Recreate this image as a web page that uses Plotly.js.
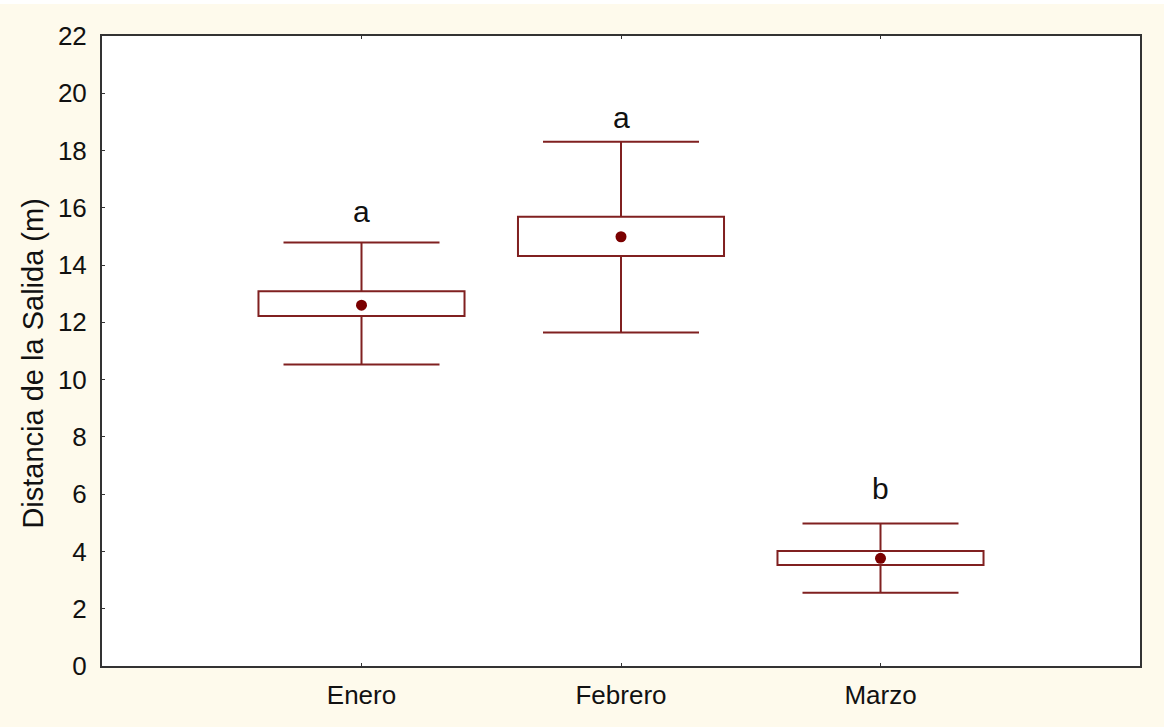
<!DOCTYPE html>
<html>
<head>
<meta charset="utf-8">
<script src="https://cdn.plot.ly/plotly-3.0.1.min.js"></script>
<style>
  html, body { margin: 0; padding: 0; background: #FEFAEC; }
  #chart { width: 1164px; height: 727px; }
</style>
</head>
<body>
<div id="chart"></div>
<script>
// Months compared
const months = ['Enero', 'Febrero', 'Marzo'];

// Distance from the exit (m): mean, mean ± SE (box), mean ± 1.96·SE (whiskers)
const means   = [12.60, 14.99, 3.76];
const boxLow  = [12.22, 14.32, 3.53];
const boxHigh = [13.09, 15.69, 4.02];
const whiskLow  = [10.53, 11.65, 2.56];
const whiskHigh = [14.79, 18.31, 4.98];

// Homogeneous-group letters and the height where each one sits
const groupLetters = ['a', 'a', 'b'];
const letterY = [15.88, 19.14, 6.20];

// Y axis ticks
const yTicks = [0, 2, 4, 6, 8, 10, 12, 14, 16, 18, 20, 22];

const markColor = '#802020';
const dotColor = '#7a0000';
const frameColor = '#333333';
const textColor = '#111111';
const sans = '"Liberation Sans", Arial, sans-serif';

// Whiskers: full vertical span with end caps, centred on each month
const whiskers = {
  type: 'scatter',
  mode: 'markers',
  x: months,
  y: means,
  marker: { size: 1, color: 'rgba(0,0,0,0)' },
  error_y: {
    type: 'data',
    symmetric: false,
    array: whiskHigh.map((v, i) => v - means[i]),
    arrayminus: means.map((v, i) => v - whiskLow[i]),
    color: markColor,
    thickness: 2,
    width: 78
  },
  hoverinfo: 'skip',
  showlegend: false
};

// Boxes (white fill) on an overlaid axis pair so they sit above the whisker line
const boxes = {
  type: 'bar',
  x: months,
  base: boxLow,
  y: boxHigh.map((v, i) => v - boxLow[i]),
  xaxis: 'x2',
  yaxis: 'y2',
  width: 0.794,
  marker: { color: '#ffffff', line: { color: markColor, width: 2 } },
  hoverinfo: 'skip',
  showlegend: false
};

const meanDots = {
  type: 'scatter',
  mode: 'markers',
  x: months,
  y: means,
  xaxis: 'x2',
  yaxis: 'y2',
  marker: { color: dotColor, size: 11, symbol: 'circle' },
  hoverinfo: 'skip',
  showlegend: false
};

const letterNotes = months.map((m, i) => ({
  x: m,
  y: letterY[i],
  xref: 'x',
  yref: 'y',
  text: groupLetters[i],
  showarrow: false,
  xanchor: 'center',
  yanchor: 'middle',
  font: { family: sans, size: 30, color: textColor }
}));

// Y axis title, set a little below the middle of the frame
letterNotes.push({
  xref: 'paper',
  yref: 'paper',
  x: 0,
  y: 0.48,
  xshift: -69,
  xanchor: 'center',
  yanchor: 'middle',
  textangle: -90,
  showarrow: false,
  text: 'Distancia de la Salida (m)',
  font: { family: sans, size: 29, color: textColor }
});

const layout = {
  width: 1164,
  height: 727,
  paper_bgcolor: '#FEFAEC',
  plot_bgcolor: '#ffffff',
  margin: { l: 102, r: 24, t: 36, b: 61 },
  showlegend: false,
  barmode: 'overlay',
  xaxis: {
    type: 'category',
    range: [-1, 3],
    showgrid: false,
    zeroline: false,
    showline: true,
    linecolor: frameColor,
    linewidth: 2,
    mirror: 'allticks',
    ticks: 'inside',
    ticklen: 3,
    tickwidth: 1,
    tickcolor: frameColor,
    ticklabelstandoff: 5,
    tickfont: { family: sans, size: 26, color: textColor }
  },
  yaxis: {
    range: [0, 22],
    tickvals: yTicks,
    ticktext: yTicks.map(String),
    showgrid: false,
    zeroline: false,
    showline: true,
    linecolor: frameColor,
    linewidth: 2,
    mirror: true,
    ticks: 'inside',
    ticklen: 3,
    tickwidth: 1,
    tickcolor: frameColor,
    ticklabelstandoff: 8,
    tickfont: { family: sans, size: 26, color: textColor }
  },
  xaxis2: {
    type: 'category',
    overlaying: 'x',
    range: [-1, 3],
    visible: false
  },
  yaxis2: {
    overlaying: 'y',
    range: [0, 22],
    visible: false
  },
  annotations: letterNotes,
  shapes: [{
    type: 'rect', xref: 'paper', yref: 'paper',
    x0: -0.2, x1: 1.1, y0: 1.0508, y1: 1.1,
    fillcolor: '#ffffff', line: { width: 0 }
  }]
};

Plotly.newPlot('chart', [whiskers, boxes, meanDots], layout, { displayModeBar: false, staticPlot: true });
</script>
</body>
</html>
